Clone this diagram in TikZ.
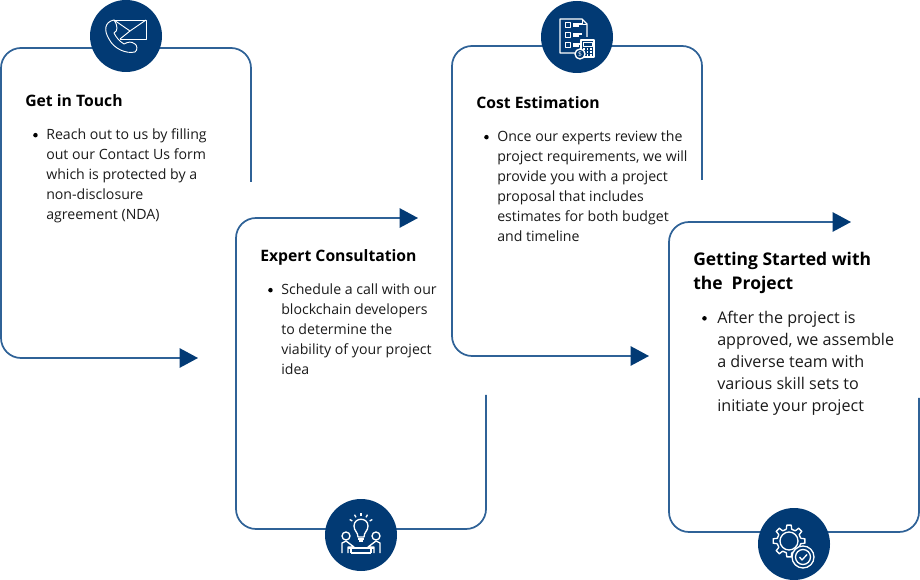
\documentclass[tikz,border=0pt]{standalone}
\usepackage{fontspec}
\setmainfont{Open Sans}
\usepackage{xcolor}
\usetikzlibrary{arrows.meta,positioning}
\definecolor{navy}{HTML}{023A74}
\definecolor{frameblue}{HTML}{2F6297}
\definecolor{inktext}{HTML}{1A1A1A}

\begin{document}
\begin{tikzpicture}[
    x=0.75pt, y=-0.75pt,
    badge/.style={circle, fill=navy, minimum size=54pt, inner sep=0pt},
    frameline/.style={draw=frameblue, line width=1.3pt, rounded corners=15pt},
    arrow/.style={frameline, -{Triangle[length=13.8pt, width=14.5pt, color=navy]}},
    heading/.style={anchor=west, inner sep=0pt, align=left, text=black, font=\fontsize{11.8}{18}\selectfont\bfseries},
    bigheading/.style={heading, font=\fontsize{13.1}{18}\selectfont\bfseries},
    bodytext/.style={anchor=north west, inner sep=0pt, align=left, text=inktext, font=\fontsize{10.6}{15}\selectfont},
    bigbody/.style={bodytext, font=\fontsize{12.1}{16.5}\selectfont},
    bulletdot/.style={circle, fill=black, minimum size=3.4pt, inner sep=0pt},
    iconline/.style={draw=white, line width=0.7pt, line join=round},
    iconthick/.style={iconline, line width=1pt}
]
\useasboundingbox (0,0) rectangle (920,580);

\coordinate (start1) at (251,182);
\coordinate (corner1a) at (251,48);
\coordinate (corner1b) at (1,48);
\coordinate (corner1c) at (1,358);
\coordinate (tip1) at (198,358);
\draw[arrow] (start1) -- (corner1a) -- (corner1b) -- (corner1c) -- (tip1);

\coordinate (start2) at (486,395);
\coordinate (corner2a) at (486,529);
\coordinate (corner2b) at (236,529);
\coordinate (corner2c) at (236,218);
\coordinate (tip2) at (418,218);
\draw[arrow] (start2) -- (corner2a) -- (corner2b) -- (corner2c) -- (tip2);

\coordinate (start3) at (702,180);
\coordinate (corner3a) at (702,46);
\coordinate (corner3b) at (452,46);
\coordinate (corner3c) at (452,356);
\coordinate (tip3) at (649,356);
\draw[arrow] (start3) -- (corner3a) -- (corner3b) -- (corner3c) -- (tip3);

\coordinate (start4) at (919,398);
\coordinate (corner4a) at (919,532);
\coordinate (corner4b) at (669,532);
\coordinate (corner4c) at (669,222);
\coordinate (tip4) at (851,222);
\draw[arrow] (start4) -- (corner4a) -- (corner4b) -- (corner4c) -- (tip4);

\node[badge] (touch) at (126,36) {};
\node[badge] (consult) at (361,535) {};
\node[badge] (estimate) at (577,37) {};
\node[badge] (started) at (794,544) {};

\node[heading] (title1) at (25,101) {Get in Touch};
\node[bodytext] (body1) at (46,128.5) {Reach out to us by filling\\out our Contact Us form\\which is protected by a\\non-disclosure\\agreement (NDA)};
\node[bulletdot, left=6pt of body1.north west, yshift=-5pt] (dot1) {};

\node[heading] (title2) at (260,257) {Expert Consultation};
\node[bodytext] (body2) at (281,283.5) {Schedule a call with our\\blockchain developers\\to determine the\\viability of your project\\idea};
\node[bulletdot, left=6pt of body2.north west, yshift=-5pt] (dot2) {};

\node[heading] (title3) at (476,103) {Cost Estimation};
\node[bodytext] (body3) at (497,130.5) {Once our experts review the\\project requirements, we will\\provide you with a project\\proposal that includes\\estimates for both budget\\and timeline};
\node[bulletdot, left=6pt of body3.north west, yshift=-5pt] (dot3) {};

\node[bigheading, anchor=north west] (title4) at (693,252) {Getting Started with\\the\ \ Project};
\node[bigbody] (body4) at (717,311) {After the project is\\approved, we assemble\\a diverse team with\\various skill sets to\\initiate your project};
\node[bulletdot, left=7.5pt of body4.north west, yshift=-5.5pt] (dot4) {};

\begin{scope}[shift={(touch.center)}]
  \draw[iconline] (-12,-16) -- (20,-16) -- (20,3) -- (-6,3);
  \draw[iconline] (-12,-16) -- (4,-5) -- (20,-16);
  \draw[iconline] (-6,3) -- (4,-5);
  \draw[iconline] (-12,-16) .. controls (-22,-14) and (-22,-5) .. (-17,3) .. controls (-12,13) and (0,18) .. (9,16) .. controls (12,14) and (11,9) .. (9,8) .. controls (5,5) and (2,6) .. (-2,8) .. controls (-7,5) and (-10,1) .. (-12,-3) .. controls (-8,-5) and (-8,-10) .. (-12,-16);
\end{scope}

\begin{scope}[shift={(consult.center)}]
  \draw[iconthick] (-3,2) .. controls (-3,-3) and (-7,-4) .. (-7,-9) .. controls (-7,-18) and (7,-18) .. (7,-9) .. controls (7,-4) and (3,-3) .. (3,2) -- cycle;
  \draw[iconthick] (-3,4) -- (3,4) (-2,6) -- (2,6);
  \foreach \a in {30,60,90,120,150}
    \draw[iconthick] (\a:-10) ++(0,-9) -- ++(\a:-3);
  \draw[iconthick] (-15,1) circle (4);
  \draw[iconthick] (15,1) circle (4);
  \draw[iconthick] (-19,18) -- (-19,8) -- (-15,6) -- (-7,12) -- (-13,12) -- (-13,18);
  \draw[iconthick] (19,18) -- (19,8) -- (15,6) -- (7,12) -- (13,12) -- (13,18);
  \draw[iconthick] (-13,13) -- (13,13) (-10,18) -- (10,18) (-10,13) -- (-10,18) (10,13) -- (10,18);
\end{scope}

\begin{scope}[shift={(estimate.center)}]
  \draw[iconthick] (3,16) -- (-17,16) -- (-17,-18) -- (5,-18) -- (10,-13) -- (10,0);
  \draw[iconline] (5,-18) -- (5,-13) -- (10,-13);
  \foreach \y in {-12,-2,8} {
    \draw[iconline] (-12,\y-3) rectangle (-7,\y+2);
    \draw[iconthick] (-4,\y-1) -- (5,\y-1) (-4,\y+1) -- (2,\y+1);
  }
  \draw[iconthick, fill=navy] (4,3) rectangle (17,20);
  \draw[iconline] (6,5) rectangle (15,9);
  \foreach \y in {12,15,18}
    \foreach \x in {7,10.5,14}
      \fill[white] (\x-0.8,\y-0.8) rectangle (\x+0.8,\y+0.8);
  \draw[iconthick, fill=navy] (3,17) circle (5);
  \node[text=white, inner sep=0pt, font=\fontsize{5}{5}\selectfont] (dollar) at (3,17) {\$};
\end{scope}

\begin{scope}[shift={(started.center)}]
  \begin{scope}[shift={(-5,-3)}]
    \draw[iconthick] \foreach \a in {0,45,...,315} {(\a-13:12) -- (\a-8:16) -- (\a+8:16) -- (\a+13:12) -- (\a+32:12)} ;
    \draw[iconthick] (0,0) circle (9);
  \end{scope}
  \draw[iconthick, fill=navy] (9,13) circle (11);
  \draw[iconthick] (9,13) circle (7.5);
  \draw[iconthick] (5.5,13) -- (8,16) -- (13,10.5);
\end{scope}
\end{tikzpicture}
\end{document}
